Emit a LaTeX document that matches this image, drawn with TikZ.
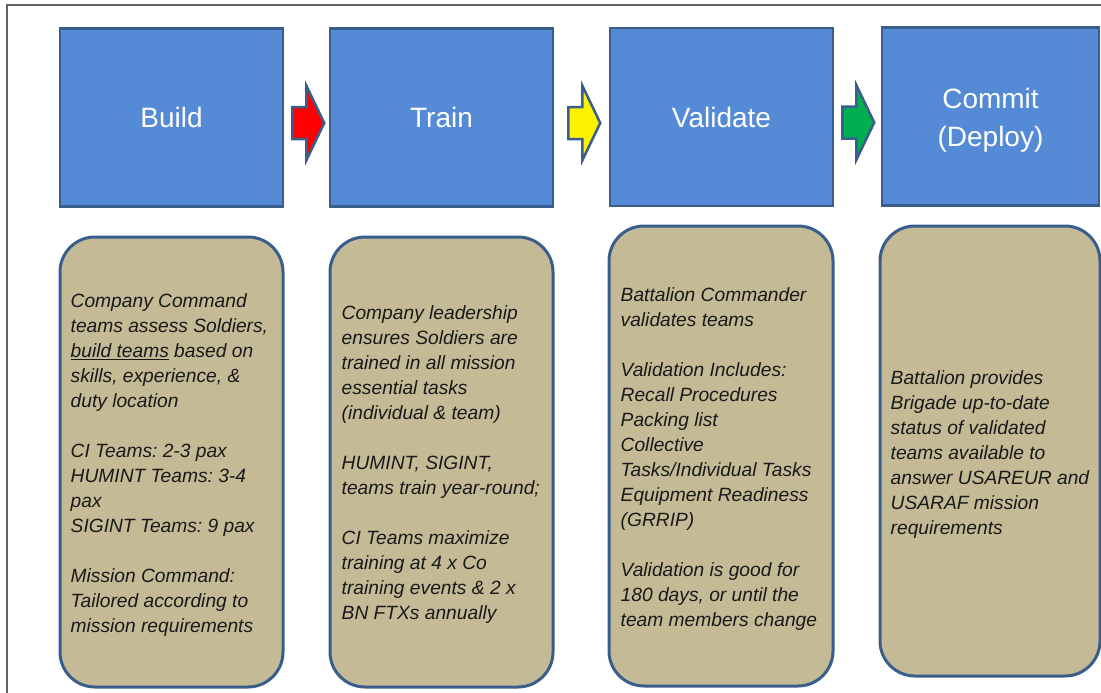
\documentclass[tikz,border=0pt]{standalone}
\usepackage{fontspec}
\setmainfont{Liberation Sans}
\usetikzlibrary{calc}
\definecolor{boxblue}{RGB}{84,138,214}
\definecolor{edgeblue}{RGB}{58,94,140}
\definecolor{tanfill}{RGB}{196,187,150}
\definecolor{framegray}{RGB}{100,100,100}
\definecolor{arrgreen}{RGB}{0,176,80}
\definecolor{txt}{RGB}{25,25,25}
\frenchspacing
\begin{document}
\frenchspacing
\begin{tikzpicture}[x=1pt,y=-1pt,
  stagetext/.style={text=white, font=\fontsize{28}{38}\selectfont, align=center, inner sep=0pt},
  stage/.style={stagetext, draw=edgeblue, line width=2.5pt, fill=boxblue, minimum width=223pt, minimum height=178pt},
  infobox/.style={draw=edgeblue, line width=3pt, fill=tanfill, rounded corners=35pt, minimum width=223pt, minimum height=450pt, inner sep=0pt},
  infotext/.style={anchor=west, align=left, inner sep=0pt, text=txt, font=\fontsize{19.2}{25}\selectfont\itshape},
  blockarrow/.style={draw=edgeblue, line width=2.5pt, line join=miter}]
\useasboundingbox (0,0) rectangle (1101,693);
\clip (0,0) rectangle (1101,693);
\fill[white] (0,0) rectangle (1101,693);
\draw[framegray, line width=1.5pt] (7,700) -- (7,5) -- (1110,5);

% stage boxes
\node[stage] (build) at (171.5,117.5) {Build};
\node[stage] (train) at (441.5,117.5) {Train};
\node[stage] (validate) at (721.5,117) {Validate};
\node[stage, minimum width=217pt] (commit) at (990.5,116.5) {};
\node[stagetext] (commitlabel) at ($(commit.center)+(0,3.5)$) {Commit\\(Deploy)};

% block arrows
\foreach \a/\o/\c in {build/8/red, train/14/yellow, validate/8/arrgreen}{
  \begin{scope}[shift={($(\a.east)+(\o,5.5)$)}]
    \draw[blockarrow, fill=\c] (0,-16) -- (14,-16) -- (14,-37.5) -- (32,0) -- (14,37.5) -- (14,16) -- (0,16) -- cycle;
  \end{scope}
}

% info boxes
\node[infobox] (i1) at (171.5,462) {};
\node[infobox] (i2) at (441.5,462) {};
\node[infobox, minimum width=224pt, minimum height=460pt] (i3) at (721,456) {};
\node[infobox, minimum width=220pt] (i4) at (990,451) {};

\node[infotext] (t1) at ($(i1.west)+(12,3)$) {Company Command\\teams assess Soldiers,\\\underline{build teams} based on\\skills, experience, \&\\duty location\\[25pt]CI Teams: 2-3 pax\\HUMINT Teams: 3-4\\pax\\SIGINT Teams: 9 pax\\[25pt]Mission Command:\\Tailored according to\\mission requirements};
\node[infotext] (t2) at ($(i2.west)+(13,3)$) {Company leadership\\ensures Soldiers are\\trained in all mission\\essential tasks\\(individual \& team)\\[25pt]HUMINT, SIGINT,\\teams train year-round;\\[25pt]CI Teams maximize\\training at 4 x Co\\training events \& 2 x\\BN FTXs annually};
\node[infotext] (t3) at ($(i3.west)+(13,3.5)$) {Battalion Commander\\validates teams\\[25pt]Validation Includes:\\Recall Procedures\\Packing list\\Collective\\Tasks/Individual Tasks\\Equipment Readiness\\(GRRIP)\\[25pt]Validation is good for\\180 days, or until the\\team members change};
\node[infotext] (t4) at ($(i4.west)+(12,3.5)$) {Battalion provides\\Brigade up-to-date\\status of validated\\teams available to\\answer USAREUR and\\USARAF mission\\requirements};
\end{tikzpicture}
\end{document}
